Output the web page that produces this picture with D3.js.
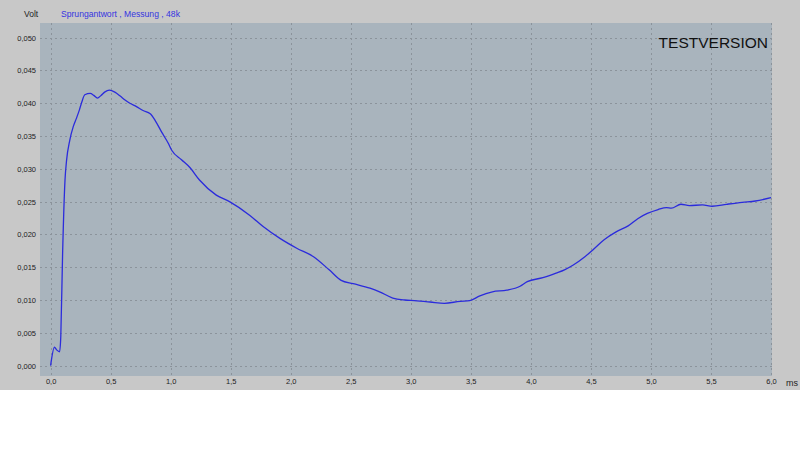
<!DOCTYPE html>
<html><head><meta charset="utf-8">
<script src="https://cdn.jsdelivr.net/npm/d3@7"></script>
<style>html,body{margin:0;padding:0;background:#fff}svg{display:block}</style>
</head><body>
<svg id="c" width="800" height="469"></svg>
<script>
const timeMs = [0,0.032,0.05,0.075,0.085,0.10,0.12,0.133,0.16,0.188,0.215,0.24,0.26,0.285,0.33,0.36,0.39,0.42,0.45,0.49,0.535,0.58,0.62,0.66,0.715,0.77,0.83,0.87,0.925,0.98,1.01,1.09,1.16,1.24,1.38,1.49,1.66,1.77,1.91,2.05,2.19,2.32,2.42,2.52,2.66,2.74,2.85,2.95,3.03,3.16,3.28,3.41,3.49,3.57,3.68,3.80,3.91,3.97,4.10,4.21,4.28,4.35,4.45,4.52,4.61,4.71,4.81,4.89,4.97,5.06,5.13,5.17,5.25,5.32,5.43,5.51,5.63,5.76,5.87,6.0];
const volts = [0,0.0028,0.0024,0.0021,0.0045,0.0171,0.0283,0.0313,0.0344,0.0364,0.0377,0.0390,0.0402,0.0413,0.0415,0.0412,0.0408,0.0412,0.0417,0.0420,0.0417,0.0411,0.0405,0.0400,0.0395,0.0389,0.0384,0.0374,0.0356,0.0339,0.0328,0.0314,0.0302,0.0283,0.0260,0.0250,0.0229,0.0212,0.0194,0.0179,0.0166,0.0146,0.0130,0.0125,0.0118,0.01125,0.0103,0.0100,0.0099,0.0097,0.0095,0.0098,0.0099,0.0106,0.01125,0.0115,0.0121,0.0128,0.0134,0.0141,0.0146,0.0153,0.0166,0.0177,0.0192,0.0204,0.0213,0.0224,0.0232,0.0238,0.0241,0.0240,0.0246,0.0244,0.0245,0.0243,0.0246,0.0249,0.0251,0.0256];
const xTicks = [0,0.5,1,1.5,2,2.5,3,3.5,4,4.5,5,5.5,6];
const yTicks = [0,0.005,0.01,0.015,0.02,0.025,0.03,0.035,0.04,0.045,0.05];
const titleText = "Sprungantwort , Messung , 48k";
const yUnit = "Volt", xUnit = "ms", watermark = "TESTVERSION";

const loc = d3.formatLocale({decimal:",",thousands:".",grouping:[3],currency:["","€"]});
const fy = loc.format(".3f"), fx = loc.format(".1f");

const svg = d3.select("#c");
svg.append("rect").attr("x",0).attr("y",0).attr("width",800).attr("height",390).attr("fill","#c8c8c8");

const pl = 40, pr = 772, pt = 23, pb = 376;
const x = d3.scaleLinear().domain([0,6]).range([50.6,771]);
const y = d3.scaleLinear().domain([0,0.05]).range([365.6,37.7]);

svg.append("rect").attr("x",pl).attr("y",pt).attr("width",pr-pl).attr("height",pb-pt).attr("fill","#a9b4bd");

const g = svg.append("g");
g.selectAll("line.gx").data(xTicks).join("line")
  .attr("x1",d=>Math.round(x(d))+0.5).attr("x2",d=>Math.round(x(d))+0.5)
  .attr("y1",pt).attr("y2",pb)
  .attr("stroke","#8b939b").attr("stroke-width",1).attr("stroke-dasharray","2,3");
g.selectAll("line.gy").data(yTicks).join("line")
  .attr("y1",d=>Math.round(y(d))+0.5).attr("y2",d=>Math.round(y(d))+0.5)
  .attr("x1",pl).attr("x2",pr)
  .attr("stroke","#8b939b").attr("stroke-width",1).attr("stroke-dasharray","2,3");

const yAxis = d3.axisLeft(y).tickValues(yTicks).tickFormat(fy).tickSize(0).tickPadding(0);
const ya = svg.append("g").attr("transform","translate(36,0)").call(yAxis);
ya.select(".domain").remove();
ya.selectAll("text").attr("font-family","Liberation Sans, Arial, sans-serif").attr("font-size",7.5).attr("fill","#222");

const xAxis = d3.axisBottom(x).tickValues(xTicks).tickFormat(fx).tickSize(0).tickPadding(0);
const xa = svg.append("g").attr("transform","translate(0,379)").call(xAxis);
xa.select(".domain").remove();
xa.selectAll("text").attr("font-family","Liberation Sans, Arial, sans-serif").attr("font-size",7.5).attr("fill","#222");

const data = timeMs.map((t,i)=>[t,volts[i]]);
svg.append("path").datum(data)
  .attr("d", d3.line().x(d=>x(d[0])).y(d=>y(d[1])).curve(d3.curveMonotoneX))
  .attr("fill","none").attr("stroke","#2b2bdc").attr("stroke-width",1.3);

svg.append("text").attr("x",24).attr("y",17).text(yUnit)
  .attr("font-family","Liberation Sans, Arial, sans-serif").attr("font-size",8.5).attr("fill","#222");
svg.append("text").attr("x",61).attr("y",17).text(titleText)
  .attr("font-family","Liberation Sans, Arial, sans-serif").attr("font-size",8.6).attr("fill","#3434e0");
svg.append("text").attr("x",786).attr("y",386).text(xUnit)
  .attr("font-family","Liberation Sans, Arial, sans-serif").attr("font-size",9).attr("fill","#222");
svg.append("text").attr("x",768).attr("y",48).attr("text-anchor","end").text(watermark)
  .attr("font-family","Liberation Sans, Arial, sans-serif").attr("font-size",15.5).attr("fill","#111");
</script>
</body></html>
